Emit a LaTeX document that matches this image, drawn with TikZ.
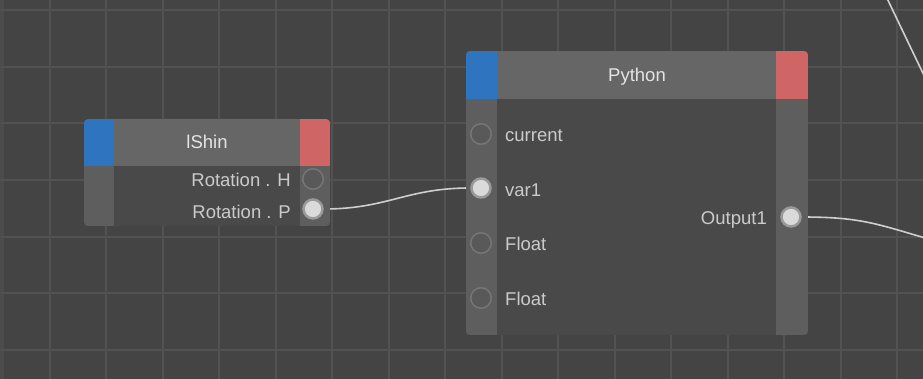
\documentclass[tikz,border=0pt]{standalone}
\usepackage{fontspec}
\setmainfont{Liberation Sans}
\usetikzlibrary{positioning, backgrounds, calc}
\pgfdeclarelayer{wires}
\pgfsetlayers{background,wires,main}

\definecolor{canvas}{HTML}{444444}
\definecolor{canvasedge}{HTML}{4C4C4C}
\definecolor{gridgray}{HTML}{525252}
\definecolor{nodebody}{HTML}{494949}
\definecolor{nodehead}{HTML}{666666}
\definecolor{nodeside}{HTML}{5E5E5E}
\definecolor{headblue}{HTML}{2F74BF}
\definecolor{headred}{HTML}{CF6565}
\definecolor{portring}{HTML}{767676}
\definecolor{portinner}{HTML}{595959}
\definecolor{portlight}{HTML}{DADADA}
\definecolor{portglow}{HTML}{9A9A9A}
\definecolor{labelgray}{HTML}{CBCBCB}
\definecolor{titlegray}{HTML}{E4E4E4}
\definecolor{wiregray}{HTML}{CFCFCF}

\tikzset{
  gridline/.style={gridgray, line width=2pt},
  port/.style={circle, draw=portring, line width=1.5pt, fill=portinner,
    minimum size=20.5pt, inner sep=0pt},
  portfull/.style={circle, draw=portglow, line width=2.5pt, fill=portlight,
    minimum size=19pt, inner sep=0pt},
  portlabel/.style={text=labelgray, font=\fontsize{18.5}{20}\selectfont, inner sep=0pt},
  nodetitle/.style={text=titlegray, font=\fontsize{18.5}{20}\selectfont, inner sep=0pt},
  wire/.style={wiregray, line width=1.6pt}
}

\begin{document}
\begin{tikzpicture}[x=1pt, y=-1pt]
			\useasboundingbox (0,0) rectangle (923,379);
			
			% Canvas and grid
			\begin{pgfonlayer}{background}
				\fill[canvas] (0,0) rectangle (923,379);
				\fill[canvasedge] (0,0) rectangle (4,379);
				\foreach \i in {0,...,15}
					\draw[gridline] ({50+56.47*\i},0) -- ({50+56.47*\i},379);
				\foreach \j in {0,...,6}
					\draw[gridline] (0,{10+56.67*\j}) -- (923,{10+56.67*\j});
			\end{pgfonlayer}
			
			% lShin node
			\begin{scope}
				\clip[rounded corners=4pt] (84,119) rectangle (330,226);
				\fill[nodebody] (84,119) rectangle (330,226);
				\fill[nodehead] (84,119) rectangle (330,166);
				\fill[nodeside] (84,166) rectangle (114,226);
				\fill[nodeside] (300,166) rectangle (330,226);
				\fill[headblue] (84,119) rectangle (114,166);
				\fill[headred] (300,119) rectangle (330,166);
			\end{scope}
			\node[nodetitle, anchor=base] (lshin) at (207,149) {lShin};
			\node[port] (rotH) at (313,179) {};
			\node[portfull] (rotP) at (313,209) {};
			\node[portlabel, anchor=base east] (rotHlabel) at (291,187) {Rotation . H};
			\node[portlabel, anchor=base east] (rotPlabel) at (291,219) {Rotation . P};
			
			% Python node
			\begin{scope}
				\clip[rounded corners=4pt] (466,51) rectangle (808,335);
				\fill[nodebody] (466,51) rectangle (808,335);
				\fill[nodehead] (466,51) rectangle (808,99);
				\fill[nodeside] (466,99) rectangle (497,335);
				\fill[nodeside] (776,99) rectangle (808,335);
				\fill[headblue] (466,51) rectangle (497,99);
				\fill[headred] (776,51) rectangle (808,99);
			\end{scope}
			\node[nodetitle, anchor=base] (python) at (637,82) {Python};
			\node[port] (current) at (481,134) {};
			\node[portfull] (var1) at (481,188) {};
			\node[port] (floatA) at (481,243) {};
			\node[port] (floatB) at (481,298) {};
			\node[portfull] (out1) at (791,217) {};
			\node[portlabel, anchor=base west] (currentlabel) at (505,142) {current};
			\node[portlabel, anchor=base west] (var1label) at (505,197) {var1};
			\node[portlabel, anchor=base west] (floatAlabel) at (505,251) {Float};
			\node[portlabel, anchor=base west] (floatBlabel) at (505,305) {Float};
			\node[portlabel, anchor=base east] (out1label) at (767,225) {Output1};
			
			% Wires (under the nodes)
			\coordinate (outend) at (960,248);
			\coordinate (topA) at (884,-8);
			\coordinate (topB) at (930,88);
			\begin{pgfonlayer}{wires}
				\draw[wire] (rotP) .. controls +(75,0) and +(-75,0) .. (var1);
				\draw[wire] (out1) .. controls (870,217) and (880,226) .. (outend);
				\draw[wire] (topA) -- (topB);
			\end{pgfonlayer}
			
		\end{tikzpicture}
\end{document}
